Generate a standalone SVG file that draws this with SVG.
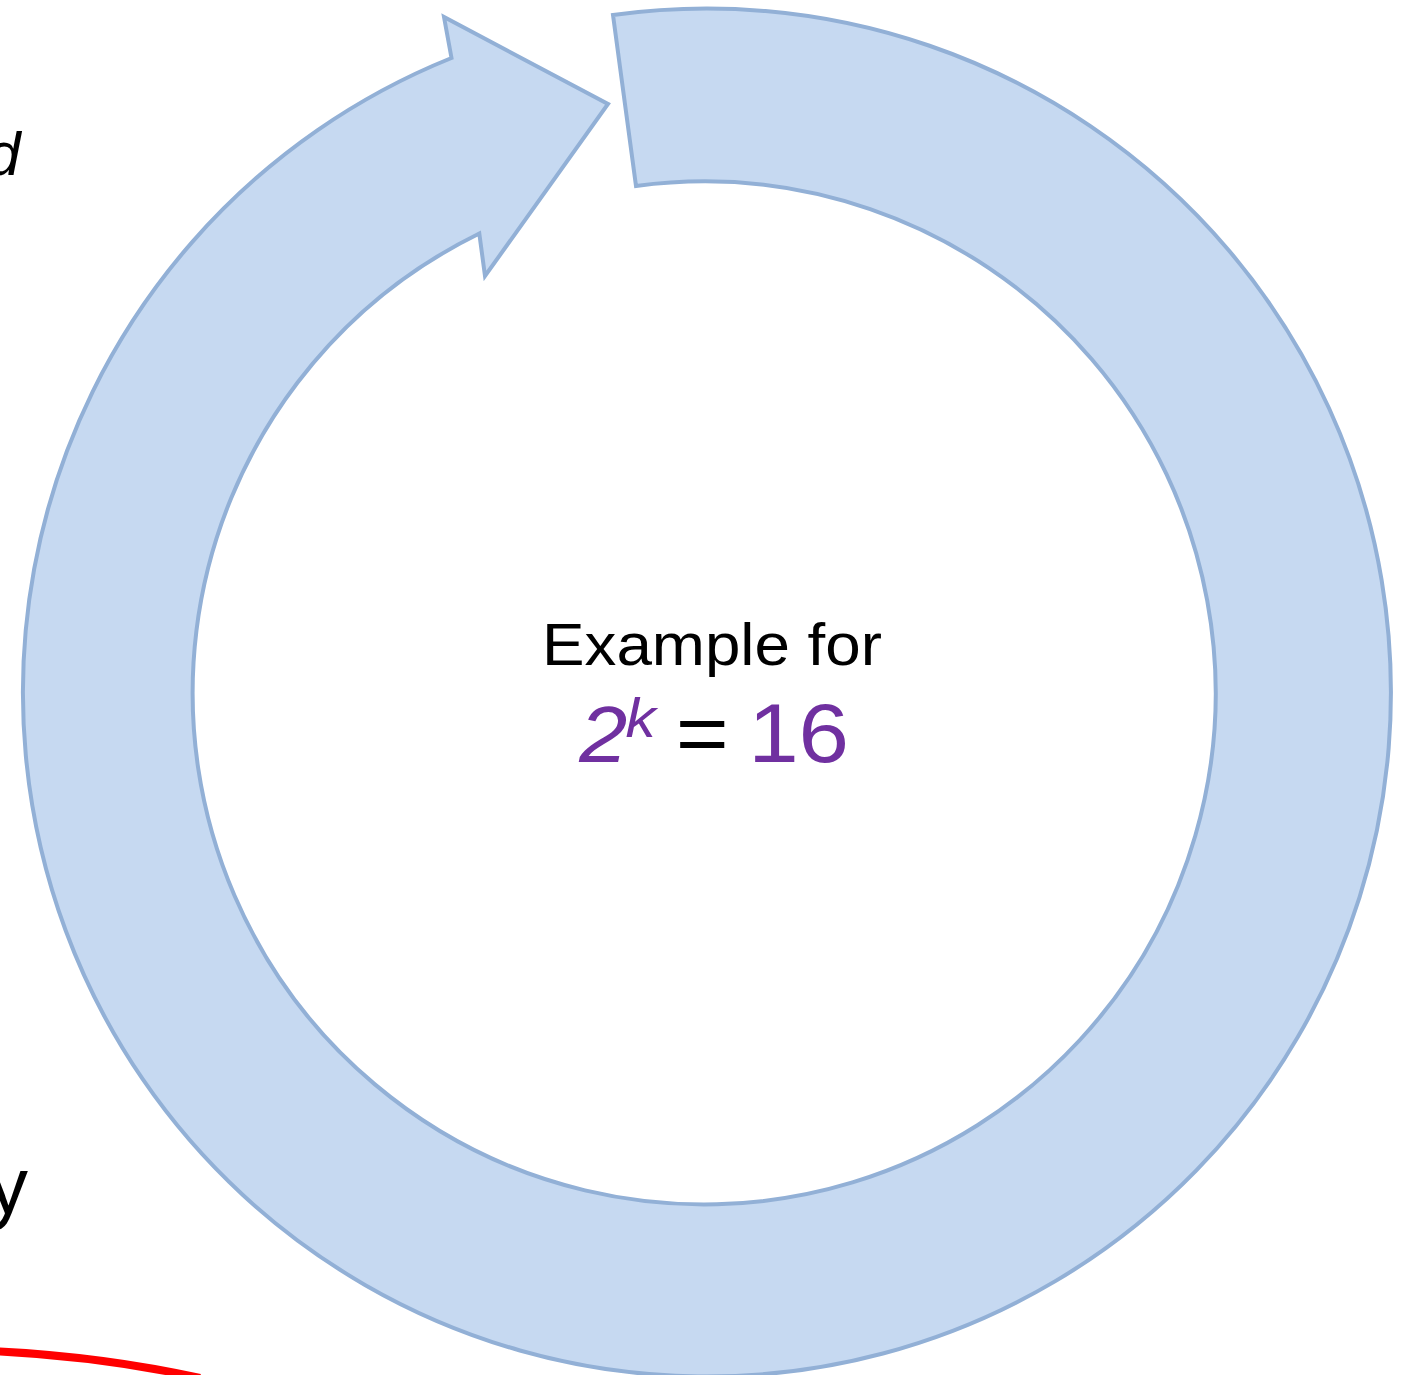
<svg xmlns="http://www.w3.org/2000/svg" width="1405" height="1375" viewBox="0 0 1405 1375">
  <style>
    .ring { fill: #C6D9F1; stroke: #92B0D6; stroke-width: 4; stroke-linejoin: miter; }
    .txt { font-family: "Liberation Sans", Arial, sans-serif; }
    .purple { fill: #7030A0; }
  </style>
  <rect width="1405" height="1375" fill="#ffffff"/>
  <g id="cycle-arrow">
    <path class="ring" d="M 613 15 A 684 684 0 1 1 451.5 58 L 444 17 L 608 104 L 485 276 L 479.3 233.5 A 511.5 511.5 0 1 0 636 186 Z"/>
  </g>
  <g id="center-label" transform="translate(712,0) scale(1.08,1) translate(-712,0)">
    <text class="txt" x="712" y="665" font-size="59" text-anchor="middle" fill="#000">Example for</text>
    <text class="txt" y="762" font-size="84"><tspan class="purple" x="589" font-style="italic" font-size="80">2</tspan><tspan class="purple" x="632" y="737" font-style="italic" font-size="56">k</tspan><tspan x="678.5" y="762" fill="#000">=</tspan><tspan class="purple" x="745.5">16</tspan></text>
  </g>
  <g id="edge-text">
    <text class="txt" x="-14" y="175" font-size="62" font-style="italic" fill="#000">d</text>
    <text class="txt" x="-12" y="1213" font-size="80" fill="#000">y</text>
  </g>
  <g id="connectors">
    <path d="M -10 1351 Q 100 1356 200 1378" fill="none" stroke="#FF0000" stroke-width="8"/>
  </g>
</svg>
